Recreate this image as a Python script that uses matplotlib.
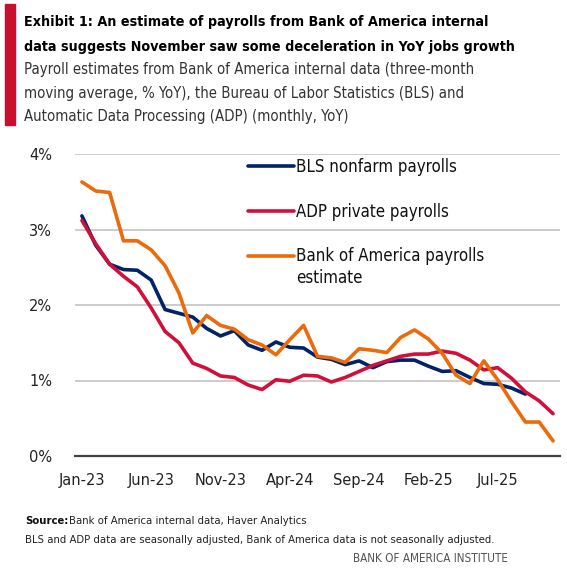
import matplotlib
matplotlib.use("Agg")
import matplotlib.pyplot as plt
import numpy as np

# monthly, Jan-23 .. Nov-25
months = ["Jan-23", "Feb-23", "Mar-23", "Apr-23", "May-23", "Jun-23", "Jul-23", "Aug-23",
          "Sep-23", "Oct-23", "Nov-23", "Dec-23", "Jan-24", "Feb-24", "Mar-24", "Apr-24",
          "May-24", "Jun-24", "Jul-24", "Aug-24", "Sep-24", "Oct-24", "Nov-24", "Dec-24",
          "Jan-25", "Feb-25", "Mar-25", "Apr-25", "May-25", "Jun-25", "Jul-25", "Aug-25",
          "Sep-25", "Oct-25", "Nov-25"]

bls = [3.18, 2.79, 2.54, 2.47, 2.46, 2.33, 1.94, 1.89, 1.84, 1.69, 1.59, 1.66, 1.47, 1.40,
       1.51, 1.44, 1.43, 1.31, 1.28, 1.21, 1.26, 1.17, 1.25, 1.27, 1.27, 1.19, 1.12, 1.13,
       1.04, 0.96, 0.95, 0.90, 0.82, np.nan, np.nan]
adp = [3.12, 2.81, 2.54, 2.38, 2.24, 1.96, 1.65, 1.50, 1.23, 1.16, 1.06, 1.04, 0.94, 0.88,
       1.01, 0.99, 1.07, 1.06, 0.98, 1.04, 1.12, 1.20, 1.26, 1.32, 1.35, 1.35, 1.39, 1.36,
       1.27, 1.14, 1.17, 1.03, 0.85, 0.73, 0.56]
bofa = [3.63, 3.51, 3.49, 2.85, 2.85, 2.73, 2.52, 2.16, 1.63, 1.86, 1.73, 1.68, 1.54, 1.47,
        1.34, 1.54, 1.73, 1.32, 1.30, 1.24, 1.42, 1.40, 1.37, 1.57, 1.67, 1.55, 1.36, 1.07,
        0.96, 1.26, 1.01, 0.72, 0.45, 0.45, 0.20]

NAVY = "#012169"
RED = "#D0103A"
ORANGE = "#EA6A0C"
plt.rcParams["font.family"] = ["DejaVu Sans"]
plt.rcParams["font.stretch"] = "condensed"

W, H = 567, 570
fig = plt.figure(figsize=(W / 100, H / 100), dpi=100)

def px(x, y):
    return x / W, 1 - y / H

# red bar on the left of the header
fig.patches.append(plt.Rectangle(px(5, 125), 10 / W, 121 / H, transform=fig.transFigure,
                                 color="#C8102E", zorder=5))

fig.text(*px(24, 22), "Exhibit 1: An estimate of payrolls from Bank of America internal",
         fontsize=10.3, fontweight="bold", va="center", color="#000000")
fig.text(*px(24, 47), "data suggests November saw some deceleration in YoY jobs growth",
         fontsize=10.3, fontweight="bold", va="center", color="#000000")
sub = ["Payroll estimates from Bank of America internal data (three-month",
       "moving average, % YoY), the Bureau of Labor Statistics (BLS) and",
       "Automatic Data Processing (ADP) (monthly, YoY)"]
for k, line in enumerate(sub):
    fig.text(*px(24, 70 + 23.5 * k), line, fontsize=10.7, va="center", color="#333333")

x0, y0 = px(75, 456)
x1, y1 = px(560, 154)
ax = fig.add_axes([x0, y0, x1 - x0, y1 - y0])

x = np.arange(len(months))
ax.plot(x, bls, color=NAVY, lw=2.6, label="BLS nonfarm payrolls", solid_capstyle="round", zorder=3)
ax.plot(x, adp, color=RED, lw=2.6, label="ADP private payrolls", solid_capstyle="round", zorder=3)
ax.plot(x, bofa, color=ORANGE, lw=2.6, label="Bank of America payrolls",
        solid_capstyle="round", zorder=4, clip_on=False)

ax.set_xlim(-0.5, len(months) - 0.5)
ax.set_ylim(0, 4)
ax.set_yticks([0, 1, 2, 3, 4])
ax.set_yticklabels(["0%", "1%", "2%", "3%", "4%"])
ax.set_xticks(x[::5])
ax.set_xticklabels(months[::5])
ax.tick_params(axis="both", length=0, labelsize=11.7, colors="#222222")
ax.tick_params(axis="y", pad=16.5)
ax.tick_params(axis="x", pad=12)
ax.grid(axis="y", color="#BFBFBF", lw=1.1)
ax.set_axisbelow(True)
for s in ["top", "right", "left"]:
    ax.spines[s].set_visible(False)
ax.spines["bottom"].set_color("#444444")
ax.spines["bottom"].set_linewidth(1.6)
ax.spines["bottom"].set_zorder(5)

leg = ax.legend(loc="upper left", bbox_to_anchor=((241 - 75) / 485, 1.01), frameon=False,
                fontsize=12.1, handlelength=2.75, handletextpad=0.12, labelspacing=1.6,
                borderaxespad=0.0)
for t in leg.get_texts():
    t.set_color("#111111")
# second line of the Bank of America legend entry (handle sits on the first line)
fig.text(*px(296, 278), "estimate", fontsize=12.1, va="center", color="#111111")

fig.text(*px(25, 521), "Source:", fontsize=8.1, fontweight="bold", va="center",
         color="#111111")
fig.text(*px(69, 521), "Bank of America internal data, Haver Analytics", fontsize=8.1,
         va="center", color="#222222")
fig.text(*px(25, 540), "BLS and ADP data are seasonally adjusted, Bank of America data is not "
         "seasonally adjusted.", fontsize=8.1, va="center", color="#222222")
fig.text(*px(508, 559), "BANK OF AMERICA INSTITUTE", fontsize=8.4, va="center", ha="right",
         color="#555555")

fig.savefig("out.png", dpi=100)
